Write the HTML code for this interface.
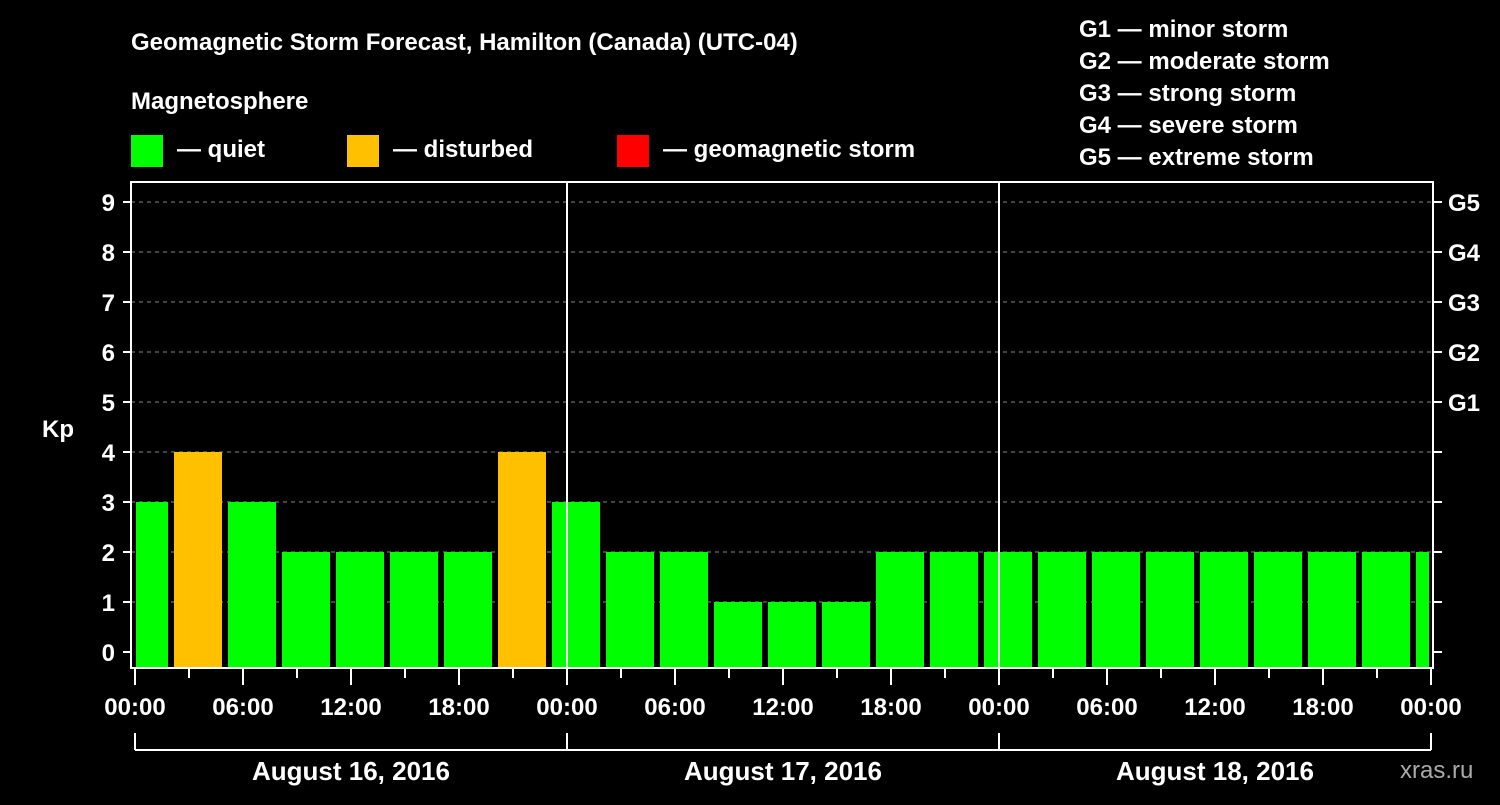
<!DOCTYPE html>
<html><head><meta charset="utf-8"><style>
body{margin:0;background:#000;width:1500px;height:800px;overflow:hidden}
svg text{font-family:"Liberation Sans",Arial,sans-serif;font-weight:bold;fill:#fff}
</style></head><body>
<svg id="c" width="1500" height="800" xmlns="http://www.w3.org/2000/svg">
<rect width="1500" height="800" fill="#000"/>
<text x="131" y="50" font-size="24">Geomagnetic Storm Forecast, Hamilton (Canada) (UTC-04)</text>
<text x="131" y="109" font-size="24">Magnetosphere</text>
<g><rect x="131" y="135" width="32" height="32" fill="#00ff00"/><text x="177" y="157" font-size="24">— quiet</text></g>
<g><rect x="347" y="135" width="32" height="32" fill="#ffc000"/><text x="393" y="157" font-size="24">— disturbed</text></g>
<g><rect x="617" y="135" width="32" height="32" fill="#ff0000"/><text x="663" y="157" font-size="24">— geomagnetic storm</text></g>
<g font-size="24">
<text x="1079" y="37">G1 — minor storm</text><text x="1079" y="69">G2 — moderate storm</text><text x="1079" y="101">G3 — strong storm</text><text x="1079" y="133">G4 — severe storm</text><text x="1079" y="165">G5 — extreme storm</text>
</g>
<text x="42" y="437" font-size="24">Kp</text>
<text x="1400" y="778" font-size="24" fill="#fff" style="fill:#aaa;font-weight:normal">xras.ru</text>
<g id="grid"></g><g id="bars"></g><g id="axes"></g>
</svg>
<script>
const kpValues=[3,4,3,2,2,2,2,4,3,2,2,1,1,1,2,2,2,2,2,2,2,2,2,2,2];
const yTicks=[0,1,2,3,4,5,6,7,8,9];
const gLabels=["G1","G2","G3","G4","G5"];
const xLabels=["00:00","06:00","12:00","18:00","00:00","06:00","12:00","18:00","00:00","06:00","12:00","18:00","00:00"];
const dayLabels=["August 16, 2016","August 17, 2016","August 18, 2016"];
const NS="http://www.w3.org/2000/svg";
const L=131,R=1433,T=182,B=668,X0=135,STEP=54;
const y=v=>652-50*v;
const x=i=>120+STEP*i;
function mk(p,t,a){const e=document.createElementNS(NS,t);for(const k in a)e.setAttribute(k,a[k]);document.getElementById(p).appendChild(e);return e;}
yTicks.forEach(v=>{if(v>=1){const g=mk('grid','line',{x1:L,x2:R,y1:y(v),y2:y(v),stroke:'#888','stroke-dasharray':'4,4','stroke-width':1});

}});
kpValues.forEach((v,i)=>{let x1=Math.max(x(i),X0+1),x2=Math.min(x(i)+48,R-4);
const r=mk('bars','rect',{x:x1,y:y(v),width:x2-x1,height:B-y(v),fill:v>=5?'#ff0000':v>=4?'#ffc000':'#00ff00'});

});
const A='axes';
mk(A,'rect',{x:L,y:T,width:R-L,height:B-T,fill:'none',stroke:'#fff','stroke-width':2});
[1,2].forEach(d=>{const l=mk(A,'line',{x1:X0+432*d,x2:X0+432*d,y1:T,y2:B,stroke:'#fff','stroke-width':2});

});
yTicks.forEach(v=>{mk(A,'line',{x1:123,x2:L,y1:y(v),y2:y(v),stroke:'#fff','stroke-width':2});
mk(A,'line',{x1:R,x2:R+9,y1:y(v),y2:y(v),stroke:'#fff','stroke-width':2});
const t=mk(A,'text',{x:115,y:y(v)+9,'font-size':24,'text-anchor':'end'});t.textContent=v;

});
gLabels.forEach((g,i)=>{const t=mk(A,'text',{x:1448,y:y(5+i)+9,'font-size':24});t.textContent=g;

});
for(let k=0;k<=24;k++){const xx=X0+STEP*k;mk(A,'line',{x1:xx,x2:xx,y1:B,y2:k%2?678:685,stroke:'#fff','stroke-width':2});}
xLabels.forEach((s,k)=>{const t=mk(A,'text',{x:X0+108*k,y:715,'font-size':24,'text-anchor':'middle'});t.textContent=s;

});
mk(A,'line',{x1:X0,x2:X0+1296,y1:750,y2:750,stroke:'#fff','stroke-width':2});
for(let d=0;d<=3;d++)mk(A,'line',{x1:X0+432*d,x2:X0+432*d,y1:733,y2:750,stroke:'#fff','stroke-width':2});
dayLabels.forEach((s,d)=>{const t=mk(A,'text',{x:X0+216+432*d,y:780,'font-size':26,'text-anchor':'middle'});t.textContent=s;

});
</script>
</body></html>
